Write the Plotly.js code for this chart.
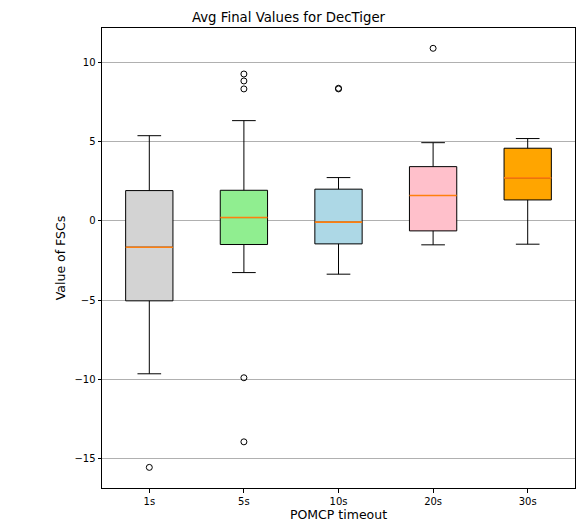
<!DOCTYPE html>
<html>
<head>
<meta charset="utf-8">
<script src="https://cdn.plot.ly/plotly-3.0.1.min.js"></script>
<style>html,body{margin:0;padding:0;background:#fff;}#chart{width:577px;height:523px;}</style>
</head>
<body>
<div id="chart"></div>
<script>
var categories = ["1s", "5s", "10s", "20s", "30s"];
var colors = ["lightgray", "lightgreen", "lightblue", "pink", "orange"];
var lowerWhisker = [-9.64, -3.26, -3.36, -1.51, -1.47];
var q1 = [-5.04, -1.49, -1.45, -0.63, 1.32];
var medians = [-1.66, 0.21, -0.08, 1.60, 2.71];
var q3 = [1.91, 1.93, 2.00, 3.42, 4.58];
var upperWhisker = [5.37, 6.32, 2.73, 4.93, 5.19];
var outlierCat = [0, 1, 1, 1, 1, 1, 2, 2, 3];
var outlierVal = [-15.54, 9.26, 8.82, 8.32, -9.89, -13.93, 8.32, 8.36, 10.88];
var yTicks = [-15, -10, -5, 0, 5, 10];

var traces = [];
var boxW = 0.5;
categories.forEach(function (c, i) {
  traces.push({
    type: "box",
    x: [i + 1],
    q1: [q1[i]], median: [medians[i]], q3: [q3[i]],
    lowerfence: [lowerWhisker[i]], upperfence: [upperWhisker[i]],
    width: boxW,
    whiskerwidth: 0.5,
    fillcolor: colors[i],
    line: {color: "black", width: 1},
    boxpoints: false,
    hoverinfo: "skip",
    showlegend: false
  });
});
// median lines
var mx = [], my = [];
medians.forEach(function (m, i) {
  mx.push(i + 1 - boxW / 2, i + 1 + boxW / 2, null);
  my.push(m, m, null);
});
traces.push({
  type: "scatter", mode: "lines", x: mx, y: my,
  line: {color: "#ff7f0e", width: 1.6}, showlegend: false, hoverinfo: "skip"
});
traces.push({
  type: "scatter", mode: "markers",
  x: outlierCat.map(function (k) { return k + 1; }), y: outlierVal,
  marker: {symbol: "circle-open", size: 6, color: "black", line: {width: 1, color: "black"}},
  showlegend: false, hoverinfo: "skip"
});

var layout = {
  width: 577, height: 523,
  margin: {l: 102, r: 2, t: 28, b: 35},
  paper_bgcolor: "white", plot_bgcolor: "white",
  font: {family: "DejaVu Sans", color: "black", size: 10},
  title: {text: "Avg Final Values for DecTiger", font: {size: 13.3, family: "DejaVu Sans"}, x: 0.5, xanchor: "center", y: 0.967, yanchor: "middle"},
  xaxis: {
    range: [0.5, 5.5],
    tickvals: categories.map(function (c, i) { return i + 1; }),
    ticktext: categories,
    showgrid: false, zeroline: false,
    showline: true, linecolor: "black", linewidth: 1, mirror: true,
    ticks: "outside", ticklen: 3.5, tickcolor: "black",
    tickfont: {size: 10},
    title: {text: "POMCP timeout", font: {size: 12.5}, standoff: 2}
  },
  yaxis: {
    range: [-16.84, 12.16],
    tickvals: yTicks,
    showgrid: true, gridcolor: "#b0b0b0", gridwidth: 1,
    zeroline: false,
    showline: true, linecolor: "black", linewidth: 1, mirror: true,
    ticks: "outside", ticklen: 3.5, tickcolor: "black",
    tickfont: {size: 10},
    title: {text: "Value of FSCs", font: {size: 12.5}, standoff: 6}
  }
};
Plotly.newPlot("chart", traces, layout, {displayModeBar: false, staticPlot: true});
</script>
</body>
</html>
